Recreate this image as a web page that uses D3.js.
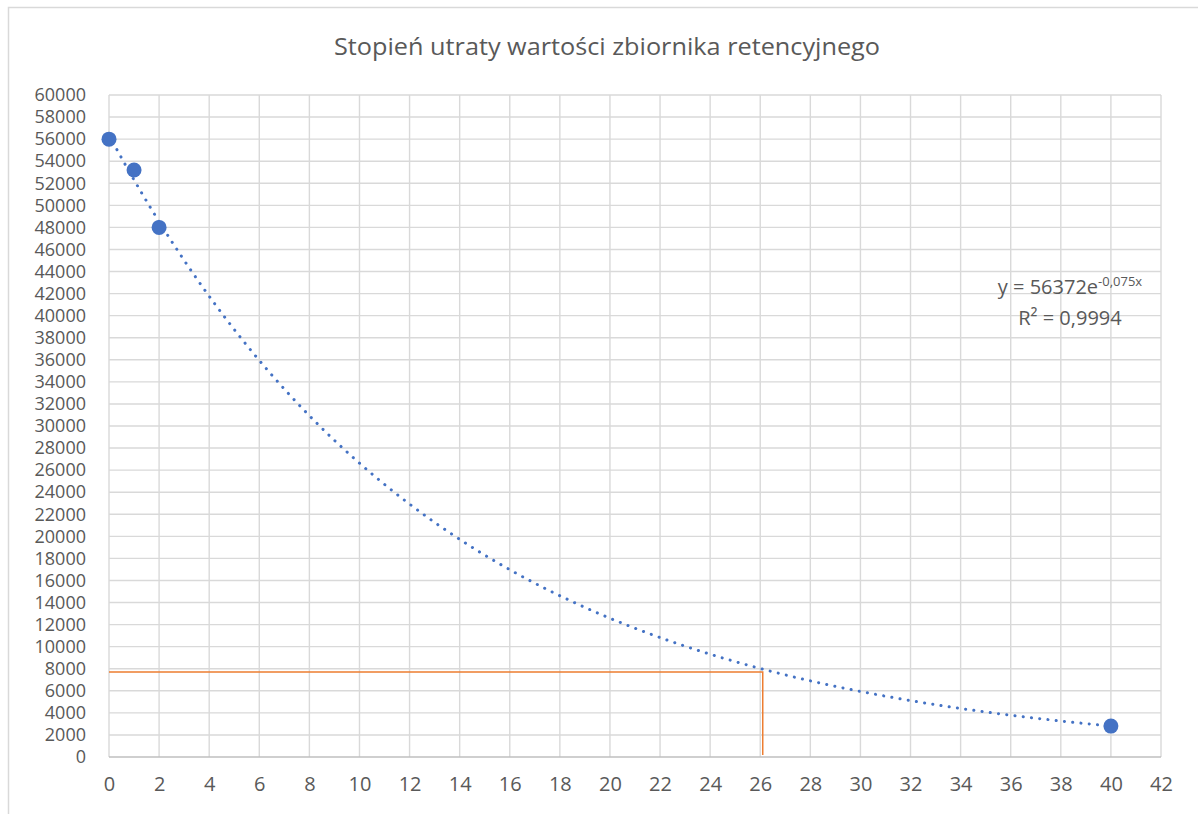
<!DOCTYPE html>
<html><head><meta charset="utf-8">
<script src="https://cdn.jsdelivr.net/npm/d3@7"></script>
<style>body{margin:0;background:#fff}svg{display:block}text{font-family:"Open Sans","Liberation Sans",sans-serif;fill:#595959}</style>
</head><body>
<svg id="c" width="1198" height="814"></svg>
<script>
const title = "Stopień utraty wartości zbiornika retencyjnego";
const xs = [0, 1, 2, 40];
const ys = [56000, 53200, 48000, 2800];
const trendA = 56372, trendB = -0.075; // from the displayed trendline label
const markerX = 26.1, markerY = 7700;
const xTicks = d3.range(0, 43, 2);
const yTicks = d3.range(0, 60001, 2000);

const svg = d3.select("#c");
const W = 1198, H = 814;
const FF = '"Open Sans","Liberation Sans",sans-serif';
svg.append("rect").attr("x", 8.5).attr("y", 7.5).attr("width", W + 10).attr("height", H + 10)
  .attr("fill", "#fff").attr("stroke", "#d9d9d9").attr("stroke-width", 1.5);

const x = d3.scaleLinear().domain([0, 42]).range([109, 1161]);
const y = d3.scaleLinear().domain([0, 60000]).range([757, 95]);

svg.append("text").attr("x", 607).attr("y", 55).attr("text-anchor", "middle")
  .attr("font-size", 24).attr("textLength", 546).attr("lengthAdjust", "spacingAndGlyphs").text(title);

const g = svg.append("g");
g.selectAll(".hg").data(yTicks.filter(d => d > 0)).join("line")
  .attr("x1", x(0)).attr("x2", x(42)).attr("y1", d => y(d)).attr("y2", d => y(d))
  .attr("stroke", "#d9d9d9").attr("stroke-width", 1.4);
g.selectAll(".vg").data(xTicks).join("line")
  .attr("x1", d => x(d)).attr("x2", d => x(d)).attr("y1", y(0)).attr("y2", y(60000))
  .attr("stroke", "#d9d9d9").attr("stroke-width", 1.4);
g.append("line").attr("x1", x(0)).attr("x2", x(42)).attr("y1", y(0)).attr("y2", y(0))
  .attr("stroke", "#bfbfbf").attr("stroke-width", 1.4);

const xAxis = d3.axisBottom(x).tickValues(xTicks).tickSize(0).tickPadding(20).tickFormat(d3.format("d"));
const xa = svg.append("g").attr("transform", `translate(0,${y(0)})`).call(xAxis);
xa.select(".domain").remove();
xa.selectAll("text").attr("font-size", 20).attr("fill", "#595959").attr("font-family", FF);

const yAxis = d3.axisLeft(y).tickValues(yTicks).tickSize(0).tickPadding(23).tickFormat(d3.format("d"));
const ya = svg.append("g").attr("transform", `translate(${x(0)},0)`).call(yAxis);
ya.select(".domain").remove();
ya.selectAll("text").attr("font-size", 18).attr("fill", "#595959").attr("font-family", FF);

// orange marker lines
svg.append("path")
  .attr("d", d3.line()([[x(0), y(markerY)], [x(markerX), y(markerY)], [x(markerX), y(0) - 2]]))
  .attr("fill", "none").attr("stroke", "#ED7D31").attr("stroke-width", 1.5);

// trendline
const tx = d3.range(0, 40.001, 0.25);
svg.append("path")
  .attr("d", d3.line().x(d => x(d)).y(d => y(trendA * Math.exp(trendB * d)))(tx))
  .attr("fill", "none").attr("stroke", "#4472C4").attr("stroke-width", 3)
  .attr("stroke-linecap", "round").attr("stroke-dasharray", "0.1 8.2");

svg.selectAll(".pt").data(xs).join("circle")
  .attr("cx", (d) => x(d)).attr("cy", (d, i) => y(ys[i])).attr("r", 7.5)
  .attr("fill", "#4472C4");

const eq = svg.append("text").attr("x", 1070).attr("y", 294).attr("text-anchor", "middle").attr("font-size", 20);
eq.append("tspan").text("y = 56372e");
eq.append("tspan").attr("dy", -8).attr("font-size", 13).text("-0,075x");
svg.append("text").attr("x", 1070).attr("y", 325).attr("text-anchor", "middle").attr("font-size", 20).text("R² = 0,9994");
</script>
</body></html>
